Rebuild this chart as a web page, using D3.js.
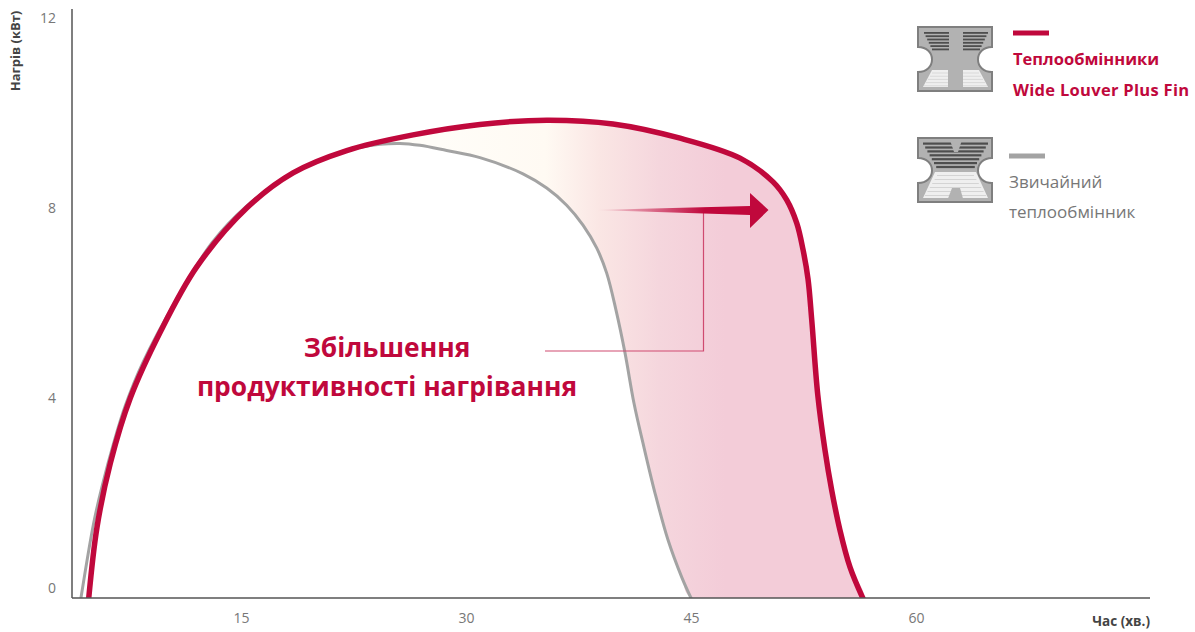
<!DOCTYPE html>
<html>
<head>
<meta charset="utf-8">
<script src="https://cdn.jsdelivr.net/npm/d3@7"></script>
<style>
  html, body { margin: 0; padding: 0; background: #fff; }
  svg { display: block; }
  text { font-family: "Open Sans", "Noto Sans", sans-serif; }
</style>
</head>
<body>
<svg id="chart" width="1195" height="632"></svg>
<script>
// values
var xTicks = [15, 30, 45, 60];
var yTicks = [0, 4, 8, 12];

var wideMinutes = [4.85, 5.4, 6.29, 7.62, 9.62, 12.05, 15.38, 18.47, 22.05, 26.47, 30.93, 35.38, 39.8, 44.27, 48.27, 50.47, 51.38, 52.05, 52.47, 52.8, 53.05, 53.45, 53.93, 54.38, 54.93, 55.6, 56.45];
var wideKw = [0, 1.49, 2.84, 4.21, 5.6, 6.97, 8.21, 8.95, 9.42, 9.75, 9.97, 10.06, 9.98, 9.68, 9.26, 8.76, 8.38, 7.89, 7.33, 6.72, 5.85, 4.28, 3.12, 2.27, 1.43, 0.65, 0];

var plainMinutes = [4.33, 5.18, 5.73, 6.51, 7.29, 8.45, 10.67, 13.07, 15.3, 18.47, 22.05, 24.27, 25.6, 26.93, 28.71, 30.93, 33.8, 35.38, 36.71, 37.8, 38.71, 39.38, 40, 40.6, 41.2, 41.8, 42.6, 43.47, 44.38, 45];
var plainKw = [0, 1.58, 2.34, 3.26, 4.05, 4.95, 6.27, 7.48, 8.23, 8.95, 9.42, 9.55, 9.57, 9.53, 9.42, 9.27, 8.93, 8.63, 8.27, 7.85, 7.37, 6.84, 6.06, 5.16, 4.1, 3.26, 2.21, 1.22, 0.44, 0];

var gainLines = ["Збільшення", "продуктивності нагрівання"];
var wideLabel = ["Теплообмінники", "Wide Louver Plus Fin"];
var plainLabel = ["Звичайний", "теплообмінник"];

var red = "#c0083c";
var grey = "#a3a3a3";

var dimensions = { width: 1195, height: 632, left: 72, right: 1150, top: 9, bottom: 598 };

var svg = d3.select("#chart");
var defs = svg.append("defs");

// 15 min every 225px, 4 kW every 190px
var x = d3.scaleLinear()
  .domain([15, 60])
  .range([241, 916]);

var y = d3.scaleLinear()
  .domain([0, 12])
  .range([dimensions.bottom, dimensions.bottom - 570]);

var wide = wideMinutes.map(function(d, i) { return [d, wideKw[i]]; });
var plain = plainMinutes.map(function(d, i) { return [d, plainKw[i]]; });

var line = d3.line()
  .x(function(d) { return x(d[0]); })
  .y(function(d) { return y(d[1]); })
  .curve(d3.curveCatmullRom.alpha(0.5));

// gradient for the gain area
var areaGrad = defs.append("linearGradient")
  .attr("id", "gainFill")
  .attr("gradientUnits", "userSpaceOnUse")
  .attr("x1", 440).attr("x2", 725).attr("y1", 0).attr("y2", 0);
areaGrad.append("stop").attr("offset", "0").attr("stop-color", "#fffdf8");
areaGrad.append("stop").attr("offset", "0.37").attr("stop-color", "#fffaf3");
areaGrad.append("stop").attr("offset", "0.56").attr("stop-color", "#fae6e4");
areaGrad.append("stop").attr("offset", "0.77").attr("stop-color", "#f5d6dd");
areaGrad.append("stop").attr("offset", "1").attr("stop-color", "#f3ccd8");

var arrowGrad = defs.append("linearGradient")
  .attr("id", "arrowFill")
  .attr("gradientUnits", "userSpaceOnUse")
  .attr("x1", 595).attr("x2", 705).attr("y1", 0).attr("y2", 0);
arrowGrad.append("stop").attr("offset", "0").attr("stop-color", red).attr("stop-opacity", 0);
arrowGrad.append("stop").attr("offset", "1").attr("stop-color", red);

defs.append("clipPath").attr("id", "plot")
  .append("rect")
  .attr("x", dimensions.left).attr("y", dimensions.top)
  .attr("width", dimensions.right - dimensions.left)
  .attr("height", dimensions.bottom - dimensions.top);

var plot = svg.append("g").attr("clip-path", "url(#plot)");

// area between the two curves: red forward, grey back
var joinAt = 22;
var upperPart = wide.filter(function(d) { return d[0] >= joinAt; });
var lowerPart = plain.filter(function(d) { return d[0] >= joinAt; }).reverse();
plot.append("path")
  .attr("d", line(upperPart.concat(lowerPart)) + "Z")
  .attr("fill", "url(#gainFill)");

plot.append("path")
  .attr("d", line(plain))
  .attr("fill", "none")
  .attr("stroke", grey)
  .attr("stroke-width", 3)
  .attr("stroke-linecap", "square");

plot.append("path")
  .attr("d", line(wide))
  .attr("fill", "none")
  .attr("stroke", red)
  .attr("stroke-width", 5.5)
  .attr("stroke-linecap", "square");

// axes
var xAxis = svg.append("g")
  .attr("transform", "translate(0," + dimensions.bottom + ")")
  .call(d3.axisBottom(x).tickValues(xTicks).tickSize(0).tickPadding(15));
xAxis.select(".domain").remove();
xAxis.append("line")
  .attr("x1", dimensions.left).attr("x2", dimensions.right)
  .attr("stroke", "#555").attr("stroke-width", 1.5);

var yAxis = svg.append("g")
  .attr("transform", "translate(" + dimensions.left + ",0)")
  .call(d3.axisLeft(y).tickValues(yTicks).tickSize(0).tickPadding(16));
yAxis.select(".domain").remove();
yAxis.append("line")
  .attr("y1", dimensions.top).attr("y2", dimensions.bottom)
  .attr("stroke", "#555").attr("stroke-width", 1.5);

svg.selectAll(".tick text")
  .attr("fill", "#777")
  .style("font-size", "14px")
  .style("font-family", '"Open Sans", sans-serif');
// the y labels sit a little above their level in the original
yAxis.selectAll(".tick text").attr("dy", "-0.38em");

svg.append("text")
  .text("Нагрів (кВт)")
  .attr("text-anchor", "middle")
  .attr("transform", "translate(19.5,51) rotate(-90)")
  .attr("fill", "#444")
  .style("font-size", "13px")
  .style("font-weight", "700");

svg.append("text")
  .text("Час (хв.)")
  .attr("text-anchor", "end")
  .attr("x", dimensions.right)
  .attr("y", 626)
  .attr("fill", "#444")
  .style("font-size", "13.5px")
  .style("font-weight", "700");

// leader line + arrow
svg.append("path")
  .attr("d", "M545,351H703.5V212")
  .attr("fill", "none")
  .attr("stroke", "#cf4a70")
  .attr("stroke-width", 1.2);

svg.append("path")
  .attr("d", "M595,210L750,206V193L768.5,210L750,228V215Z")
  .attr("fill", "url(#arrowFill)");

svg.selectAll(".gain")
  .data(gainLines)
  .enter().append("text")
  .attr("class", "gain")
  .text(function(d) { return d; })
  .attr("x", 387)
  .attr("y", function(d, i) { return 357 + i * 39; })
  .attr("text-anchor", "middle")
  .attr("fill", red)
  .style("font-size", "26.4px")
  .style("font-weight", "700");

// legend
function plate(g) {
  g.append("path")
    .attr("d", "M1,1H75V21C66,21 61,27 61,33.5C61,40 66,46 75,46V65H1V46C10,46 15,40 15,33.5C15,27 10,21 1,21Z")
    .attr("fill", "#b2b2b2")
    .attr("stroke", "#7f7f7f")
    .attr("stroke-width", 2);
}

function stripes(g, rows, color, h) {
  g.selectAll(null)
    .data(rows)
    .enter().append("rect")
    .attr("x", function(d) { return d[0]; })
    .attr("y", function(d) { return d[1]; })
    .attr("width", function(d) { return d[2]; })
    .attr("height", h)
    .attr("fill", color);
}

var icon1 = svg.append("g").attr("transform", "translate(917,26)");
plate(icon1);
var topRows = d3.range(6).map(function(i) { return i; });
[0, 1].forEach(function(side) {
  var rows = topRows.map(function(i) {
    var inset = i * 1.6;
    return side === 0 ? [7 + inset, 6 + i * 3.3, 25 - inset] : [46, 6 + i * 3.3, 25 - inset];
  });
  stripes(icon1, rows, "#4e4e4e", 1.8);
  icon1.append("path")
    .attr("d", side === 0 ? "M15,44H31V61H6Z" : "M46,44H62L71,61H46Z")
    .attr("fill", "#efefef");
  var light = d3.range(5).map(function(i) {
    var inset = 8 - i * 2;
    return side === 0 ? [7 + inset, 46.5 + i * 3.2, 24 - inset] : [46, 46.5 + i * 3.2, 24 - inset];
  });
  stripes(icon1, light, "#d9d9d9", 1);
});

var icon2 = svg.append("g").attr("transform", "translate(917,137)");
plate(icon2);
var darkRows = d3.range(7).map(function(i) {
  var inset = i * 2.2;
  return [6 + inset, 5.5 + i * 3.9, 65 - inset * 2];
});
stripes(icon2, darkRows, "#4e4e4e", 2.2);
icon2.append("path").attr("d", "M33,3H45L41,15H37Z").attr("fill", "#b2b2b2");
icon2.append("path")
  .attr("d", "M18,35H59L71,61H6Z")
  .attr("fill", "#efefef");
stripes(icon2, d3.range(6).map(function(i) {
  var inset = 13 - i * 2.4;
  return [7 + inset, 38 + i * 4, 63 - inset * 2];
}), "#d4d4d4", 1);
icon2.append("path").attr("d", "M35,51H43L46,61.5H31Z").attr("fill", "#b2b2b2");

svg.append("rect").attr("x", 1013).attr("y", 30.5).attr("width", 36).attr("height", 5).attr("fill", red);
svg.append("rect").attr("x", 1009).attr("y", 153.5).attr("width", 36).attr("height", 5).attr("fill", grey);

svg.selectAll(".wideLabel")
  .data(wideLabel)
  .enter().append("text")
  .attr("class", "wideLabel")
  .text(function(d) { return d; })
  .attr("x", 1013)
  .attr("y", function(d, i) { return 65 + i * 31; })
  .attr("fill", red)
  .style("font-size", "16.5px")
  .style("font-weight", "700")
  .style("letter-spacing", function(d, i) { return i === 1 ? "0.3px" : "0"; });

svg.selectAll(".plainLabel")
  .data(plainLabel)
  .enter().append("text")
  .attr("class", "plainLabel")
  .text(function(d) { return d; })
  .attr("x", 1009)
  .attr("y", function(d, i) { return 188 + i * 30; })
  .attr("fill", "#777")
  .style("font-size", "17px");
</script>
</body>
</html>
